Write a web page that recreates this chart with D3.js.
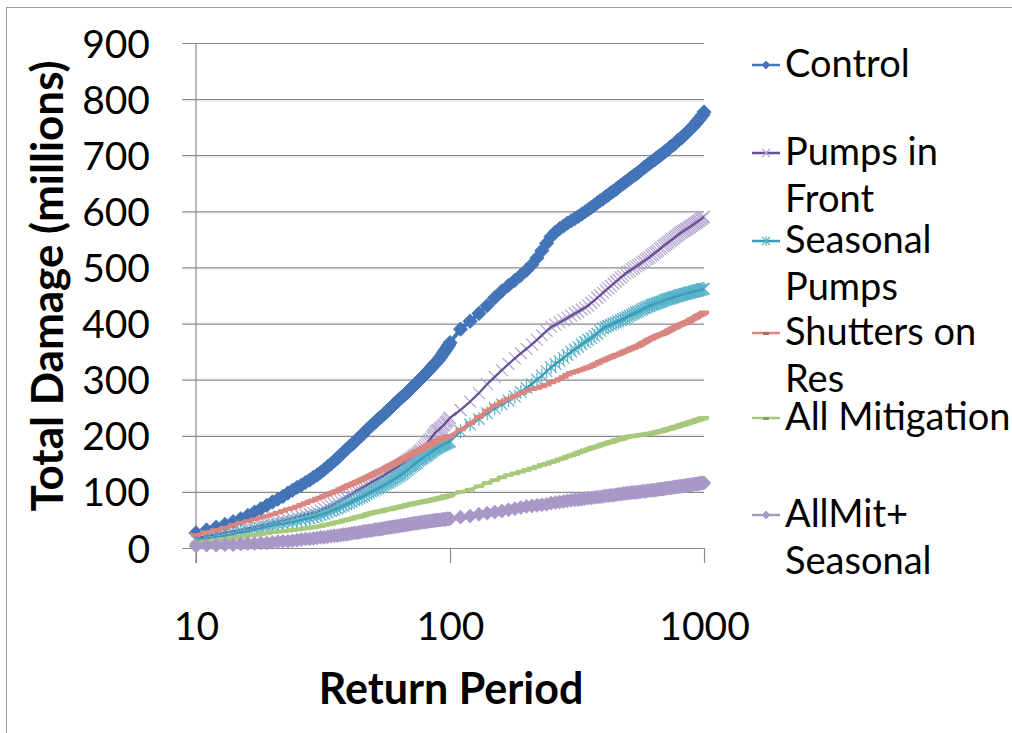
<!DOCTYPE html>
<html>
<head>
<meta charset="utf-8">
<script src="https://cdn.jsdelivr.net/npm/d3@7"></script>
<style>
  html, body { margin: 0; padding: 0; background: #fff; }
  svg { display: block; }
  text { font-family: Lato, "Open Sans", sans-serif; fill: #000; }
</style>
</head>
<body>
<svg id="chart" width="1012" height="733"></svg>
<script>
// ---------- DATA ----------
const returnPeriods = [
  10,11,12,13,14,15,16,17,18,19,20,21,22,23,24,25,26,27,28,29,
  30,31,32,33,34,35,36,37,38,39,40,41,42,43,44,45,46,47,48,49,
  50,51,52,53,54,55,56,57,58,59,60,61,62,63,64,65,66,67,68,69,
  70,71,72,73,74,75,76,77,78,79,80,81,82,83,84,85,86,87,88,89,
  90,91,92,93,94,95,96,97,98,99,100,
  110,120,130,140,150,160,170,180,190,200,210,220,230,240,250,260,270,280,290,300,
  310,320,330,340,350,360,370,380,390,400,410,420,430,440,450,460,470,480,490,500,
  510,520,530,540,550,560,570,580,590,600,610,620,630,640,650,660,670,680,690,700,
  710,720,730,740,750,760,770,780,790,800,810,820,830,840,850,860,870,880,890,900,
  910,920,930,940,950,960,970,980,990,1000
];

const control = [
  27,32,37,42,47,52,58,64,70,76, 82,87,92,98,103,108,112,117,121,126,
  130,135,140,145,150,155,160,165,170,175, 180,184,188,193,197,201,206,210,214,218,
  222,225,229,232,235,239,242,245,249,252, 255,258,261,264,267,270,272,275,278,281,
  284,287,289,292,294,297,300,302,305,307, 310,313,315,318,320,323,325,328,330,333,
  335,338,341,344,347,350,353,356,359,362, 366,
  390,404,418,432,446,458,468,477,486,495, 505,517,530,543,555,563,569,574,579,583,
  587,591,595,599,603,607,611,615,619,622, 626,629,633,636,639,643,646,649,652,655,
  658,661,664,666,669,672,675,678,680,683, 685,688,690,692,695,697,699,701,704,706,
  708,710,713,715,717,719,721,724,726,728, 730,732,735,737,739,741,744,746,748,750,
  753,755,757,760,762,765,767,770,772,777
];

const pumpsInFront = [
  18,21,24,27,30,32,35,37,40,42, 45,47,49,51,53,55,57,59,61,62,
  64,67,70,73,75,78,81,84,87,90, 93,96,99,102,104,107,109,112,114,117,
  119,121,123,125,127,129,132,134,136,138, 140,142,144,146,148,150,152,154,156,158,
  160,162,164,166,168,170,172,174,177,180, 183,186,189,192,195,198,201,204,207,209,
  210,212,214,216,218,220,223,225,227,230, 232,
  246,261,276,292,305,317,328,338,347,355, 363,371,379,387,394,398,402,406,410,414,
  418,421,425,428,432,437,441,446,450,455, 459,463,467,471,475,478,482,485,489,492,
  494,497,499,502,504,506,509,511,514,516, 518,521,523,526,528,530,533,535,538,540,
  542,544,546,548,550,552,554,556,558,560, 562,563,565,566,568,569,571,572,574,575,
  577,578,580,581,583,584,586,587,589,590
];

const seasonalPumps = [
  14,17,20,22,25,28,30,33,35,38, 40,42,43,45,46,48,50,52,53,55,
  57,59,61,63,66,68,70,73,75,78, 80,82,85,87,89,91,93,96,98,100,
  102,104,106,108,110,112,114,116,118,120, 122,124,126,128,130,132,134,137,139,141,
  144,146,148,150,152,155,157,159,160,162, 164,165,167,169,170,172,174,175,177,178,
  180,181,182,183,184,185,186,187,188,189, 190,
  208,220,230,240,249,256,263,270,278,285, 292,300,307,315,322,328,333,339,344,350,
  354,358,363,367,371,374,378,382,387,392, 394,396,398,400,402,404,406,408,410,412,
  414,416,418,420,421,423,425,427,428,430, 431,433,434,435,436,437,438,439,440,442,
  443,444,444,445,446,447,448,448,449,450, 451,451,452,453,453,454,455,455,456,456,
  457,457,458,459,459,460,460,461,461,462
];

const shuttersOnRes = [
  23,28,32,36,41,45,48,51,54,57, 60,63,66,69,71,74,77,80,83,85,
  88,90,93,95,98,100,102,105,107,110, 112,114,116,118,120,122,124,126,128,130,
  132,134,136,138,139,141,143,145,147,148, 150,152,153,155,157,158,160,161,163,164,
  166,167,169,170,172,173,174,176,177,179, 180,181,183,184,185,186,187,189,190,191,
  192,193,194,195,196,196,197,198,199,199, 200,
  211,222,234,245,254,261,266,271,276,280, 283,285,288,291,295,298,301,305,309,312,
  314,316,318,320,322,324,327,329,332,334, 336,338,340,342,344,345,347,349,351,352,
  354,356,357,359,360,362,364,366,368,370, 372,373,375,376,378,379,380,381,382,383,
  385,386,388,389,391,392,393,394,396,397, 398,399,400,401,402,403,404,405,407,408,
  409,410,411,413,414,415,416,417,418,420
];

const allMitigation = [
  9,12,14,16,18,20,22,23,25,26, 28,29,30,31,32,33,34,35,36,37,
  38,39,41,42,43,45,46,47,49,50, 51,52,54,55,56,57,58,60,61,62,
  63,64,65,65,66,67,68,69,69,70, 71,72,72,73,74,74,75,76,77,77,
  78,79,79,80,80,81,81,82,82,83, 83,84,84,85,85,86,86,87,87,88,
  88,89,89,90,90,91,92,92,93,93, 94,
  100,104,110,116,121,126,130,133,136,139, 142,145,148,150,153,155,158,160,163,165,
  167,170,172,174,176,178,180,181,183,185, 186,188,189,190,192,193,194,195,197,198,
  199,199,200,200,201,201,202,202,203,203, 204,204,205,206,206,207,208,208,209,210,
  211,212,212,213,214,215,216,216,217,218, 219,219,220,221,222,222,223,224,224,225,
  226,227,227,228,229,229,230,231,231,232
];

const allMitSeasonal = [
  4,5,5,6,6,7,8,8,9,9, 10,11,12,12,13,14,15,16,16,17,
  18,19,19,20,21,22,22,23,24,24, 25,26,27,27,28,29,30,30,31,31,
  32,33,33,34,34,35,36,36,37,37, 38,38,39,39,40,40,41,41,42,42,
  43,43,44,44,44,45,45,46,46,46, 47,47,47,48,48,48,49,49,49,50,
  50,50,50,51,51,51,51,52,52,52, 52,
  55,57,60,62,64,66,68,70,72,74, 75,76,77,78,80,81,82,83,84,85,
  86,86,87,88,89,89,90,91,91,92, 93,93,94,94,95,96,96,97,97,98,
  98,99,99,99,100,100,101,101,101,102, 102,103,103,103,104,104,105,105,105,106,
  106,107,107,107,108,108,109,109,109,110, 110,110,111,111,111,112,112,112,113,113,
  113,114,114,114,115,115,115,116,116,116
];

const seriesNames = ["Control", "Pumps in Front", "Seasonal Pumps", "Shutters on Res", "All Mitigation", "AllMit+ Seasonal"];
const legendLines = [["Control"], ["Pumps in", "Front"], ["Seasonal", "Pumps"], ["Shutters on", "Res"], ["All Mitigation"], ["AllMit+", "Seasonal"]];
const yTicks = [0,100,200,300,400,500,600,700,800,900];
const xTicks = [10,100,1000];

// ---------- STYLE ----------
const styles = [
  { values: control,       line: "#4474B8", lw: 4,   marker: "diamond", mColor: "#4474B8", mSize: 7.2 },
  { values: pumpsInFront,  line: "#6A4F94", lw: 2.2, marker: "x",       mColor: "#B3A3D0", mSize: 6 },
  { values: seasonalPumps, line: "#3A9CB6", lw: 2.2, marker: "star",    mColor: "#58B3CA", mSize: 5.8 },
  { values: shuttersOnRes, line: "#DA8680", lw: 3.4, marker: "dash",    mColor: "#DA8680", mSize: 5 },
  { values: allMitigation, line: "#A8C87C", lw: 3.4, marker: "dash",    mColor: "#A8C87C", mSize: 5 },
  { values: allMitSeasonal,line: "#A898C8", lw: 3.5, marker: "diamond", mColor: "#A898C8", mSize: 7 }
];

const svg = d3.select("#chart");

// outer border (only left/top visible in the crop)
svg.append("rect").attr("x", 6.5).attr("y", 7.5).attr("width", 1100).attr("height", 800)
  .attr("fill", "none").attr("stroke", "#a0a0a0").attr("stroke-width", 1);

const x = d3.scaleLog().domain([10, 1000]).range([196, 704]);
const y = d3.scaleLinear().domain([0, 900]).range([548, 43]);

const gridLeft = 182;

// Y axis with gridlines
const yAxis = d3.axisLeft(y).tickValues(yTicks).tickSize(-(704 - gridLeft)).tickPadding(32).tickFormat(d3.format("d"));
const gy = svg.append("g").attr("transform", `translate(${gridLeft},0)`).call(yAxis);
gy.select(".domain").remove();
gy.selectAll(".tick line").attr("stroke", "#8a8a8a").attr("stroke-width", 1.2);
gy.selectAll(".tick text").attr("font-size", 39).attr("font-family", "Lato").attr("fill", "#000").attr("dy", "0.36em");

// y axis line
svg.append("line").attr("x1", x(10)).attr("x2", x(10)).attr("y1", y(900)).attr("y2", 563)
  .attr("stroke", "#8a8a8a").attr("stroke-width", 1.2);

// X axis
const xAxis = d3.axisBottom(x).tickValues(xTicks).tickSize(15).tickPadding(49).tickFormat(d3.format("d"));
const gx = svg.append("g").attr("transform", `translate(0,${y(0)})`).call(xAxis);
gx.select(".domain").remove();
gx.selectAll(".tick line").attr("stroke", "#8a8a8a").attr("stroke-width", 1.2);
gx.selectAll(".tick text").attr("font-size", 39).attr("font-family", "Lato").attr("fill", "#000");

// Titles
svg.append("text").attr("x", 451).attr("y", 704).attr("text-anchor", "middle")
  .attr("font-size", 43).attr("font-weight", "bold").text("Return Period");
svg.append("text").attr("transform", "translate(63,286) rotate(-90)").attr("text-anchor", "middle")
  .attr("font-size", 44).attr("font-weight", "bold").text("Total Damage (millions)");

// markers
function drawMarker(g, type, cx, cy, s, color) {
  if (type === "diamond") {
    g.append("path").attr("d", `M${cx},${cy - s}L${cx + s},${cy}L${cx},${cy + s}L${cx - s},${cy}Z`)
      .attr("fill", color).attr("stroke", color).attr("stroke-width", 0.8);
  } else if (type === "x") {
    g.append("path").attr("d", `M${cx - s},${cy - s}L${cx + s},${cy + s}M${cx - s},${cy + s}L${cx + s},${cy - s}`)
      .attr("stroke", color).attr("stroke-width", 1.2).attr("fill", "none");
  } else if (type === "star") {
    g.append("path").attr("d", `M${cx - s},${cy - s}L${cx + s},${cy + s}M${cx - s},${cy + s}L${cx + s},${cy - s}M${cx},${cy - s * 1.2}L${cx},${cy + s * 1.2}`)
      .attr("stroke", color).attr("stroke-width", 1.2).attr("fill", "none");
  } else if (type === "dash") {
    g.append("rect").attr("x", cx - s).attr("y", cy - 1.8).attr("width", 2 * s).attr("height", 3.6)
      .attr("fill", color);
  }
}

const line = d3.line().x((d) => x(d[0])).y((d) => y(d[1]));

styles.forEach((st) => {
  const pts = returnPeriods.map((rp, i) => [rp, st.values[i]]);
  const g = svg.append("g");
  const lineFirst = (st.marker === "diamond" || st.marker === "dash");
  if (lineFirst) {
    g.append("path").datum(pts).attr("d", line).attr("fill", "none").attr("stroke", st.line)
      .attr("stroke-width", st.lw).attr("stroke-linejoin", "round");
  }
  pts.forEach((p) => drawMarker(g, st.marker, x(p[0]), y(p[1]), st.mSize, st.mColor));
  if (!lineFirst) {
    g.append("path").datum(pts).attr("d", line).attr("fill", "none").attr("stroke", st.line)
      .attr("stroke-width", st.lw).attr("stroke-linejoin", "round");
  }
});

// Legend
const legendTop = [77, 165, 253, 345, 430, 527];
const lineGap = 47;
legendLines.forEach((lines, i) => {
  const st = styles[i];
  const g = svg.append("g");
  const my = legendTop[i] - 12;
  g.append("line").attr("x1", 752).attr("x2", 780).attr("y1", my).attr("y2", my)
    .attr("stroke", st.line).attr("stroke-width", 2.5);
  if (st.marker === "dash") {
    g.append("rect").attr("x", 763).attr("y", my - 1).attr("width", 6).attr("height", 3).attr("fill", d3.color(st.line).darker(0.6));
  } else {
    drawMarker(g, st.marker, 766, my, 4, st.mColor);
  }
  lines.forEach((t, j) => {
    g.append("text").attr("x", 785).attr("y", legendTop[i] + j * lineGap)
      .attr("font-size", 38).text(t);
  });
});
</script>
</body>
</html>
